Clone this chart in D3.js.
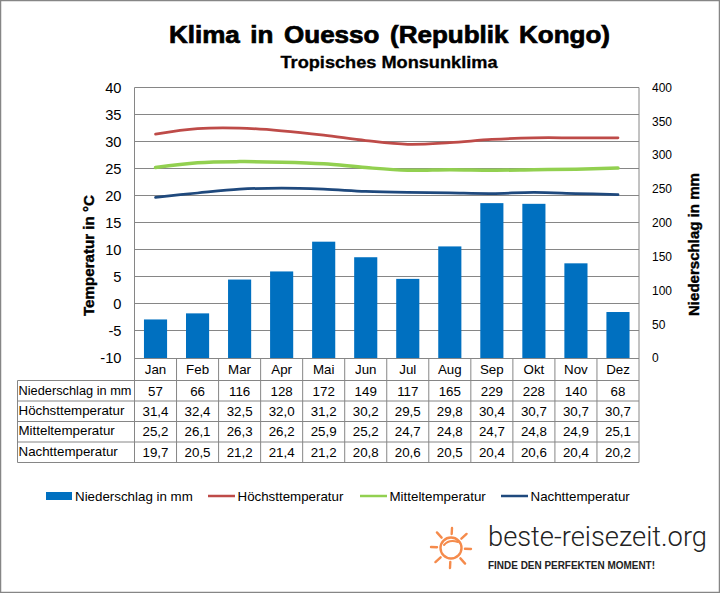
<!DOCTYPE html>
<html>
<head>
<meta charset="utf-8">
<title>Klima in Ouesso</title>
<script src="https://d3js.org/d3.v7.min.js"></script>
<style>
    html, body { margin: 0; padding: 0; background: #fff; }
    svg { display: block; }
    text { font-family: "Liberation Sans", Arial, sans-serif; fill: #000; }
</style>
</head>
<body>
<svg id="chart" width="720" height="593"></svg>
<script>
var months = ["Jan", "Feb", "Mar", "Apr", "Mai", "Jun", "Jul", "Aug", "Sep", "Okt", "Nov", "Dez"];
var niederschlag = [57, 66, 116, 128, 172, 149, 117, 165, 229, 228, 140, 68];
var hoechst = [31.4, 32.4, 32.5, 32.0, 31.2, 30.2, 29.5, 29.8, 30.4, 30.7, 30.7, 30.7];
var mittel = [25.2, 26.1, 26.3, 26.2, 25.9, 25.2, 24.7, 24.8, 24.7, 24.8, 24.9, 25.1];
var nacht = [19.7, 20.5, 21.2, 21.4, 21.2, 20.8, 20.6, 20.5, 20.4, 20.6, 20.4, 20.2];
var tempTicks = [-10, -5, 0, 5, 10, 15, 20, 25, 30, 35, 40];
var rainTicks = [0, 50, 100, 150, 200, 250, 300, 350, 400];

var gray = "#868686";
var left = 134.5, right = 639, top_ = 87.5, bottom = 358;
var tableLeft = 17.5;
var rowLines = [380.5, 401, 421.5, 442, 462.5];
var rowBase = [396, 416, 436, 457];

var svg = d3.select("#chart");
svg.append("rect").attr("x", 0.5).attr("y", 0.5).attr("width", 719).attr("height", 592)
    .attr("fill", "#fff").attr("stroke", gray).attr("stroke-width", 1.5);

var x = d3.scaleBand().domain(months).range([left, right]).paddingInner(0.45).paddingOuter(0.225);
var cell = d3.scaleBand().domain(months).range([left, right]);
var yT = d3.scaleLinear().domain([-10, 40]).range([bottom, top_]);
var yR = d3.scaleLinear().domain([0, 400]).range([bottom, top_]);

// titel
svg.append("text").attr("x", 389.5).attr("y", 42.5).attr("text-anchor", "middle")
    .attr("font-size", 23.5).attr("font-weight", "bold").attr("stroke", "#000").attr("stroke-width", 0.7)
    .attr("word-spacing", 3)
    .attr("textLength", 441).attr("lengthAdjust", "spacingAndGlyphs")
    .text("Klima in Ouesso (Republik Kongo)");
svg.append("text").attr("x", 389).attr("y", 68).attr("text-anchor", "middle")
    .attr("font-size", 16).attr("font-weight", "bold").attr("stroke", "#000").attr("stroke-width", 0.3)
    .attr("textLength", 217).attr("lengthAdjust", "spacingAndGlyphs")
    .text("Tropisches Monsunklima");

// gitter
svg.append("g").selectAll("line").data(tempTicks).join("line")
    .attr("x1", left).attr("x2", right)
    .attr("y1", function(d){ return Math.round(yT(d) - 0.5) + 0.5; })
    .attr("y2", function(d){ return Math.round(yT(d) - 0.5) + 0.5; })
    .attr("stroke", gray);
svg.append("line").attr("x1", left).attr("x2", left).attr("y1", top_).attr("y2", bottom).attr("stroke", gray);
svg.append("line").attr("x1", right).attr("x2", right).attr("y1", top_).attr("y2", bottom).attr("stroke", gray);

// balken
svg.append("g").selectAll("rect").data(niederschlag).join("rect")
    .attr("x", function(d, i){ return x(months[i]); })
    .attr("width", x.bandwidth())
    .attr("y", function(d){ return yR(d); })
    .attr("height", function(d){ return bottom - yR(d); })
    .attr("fill", "#0070C0");

// linien
var line = d3.line()
    .x(function(d, i){ return cell(months[i]) + cell.bandwidth() / 2; })
    .y(function(d){ return yT(d); })
    .curve(d3.curveCatmullRom.alpha(0.5));
var series = [
    {name: "Höchsttemperatur", values: hoechst, color: "#BE4B48", width: 2.75},
    {name: "Mitteltemperatur", values: mittel, color: "#92D050", width: 3.5},
    {name: "Nachttemperatur", values: nacht, color: "#1F497D", width: 2.75}
];
series.forEach(function(s){
    svg.append("path").attr("d", line(s.values)).attr("fill", "none")
        .attr("stroke", s.color).attr("stroke-width", s.width).attr("stroke-linecap", "round");
});

// achsen
var axL = d3.axisLeft(yT).tickValues(tempTicks).tickSize(0).tickPadding(13).tickFormat(function(d){ return String(d); });
var gL = svg.append("g").attr("transform", "translate(" + left + ",0)").call(axL);
gL.select(".domain").remove();
gL.selectAll("text").attr("font-size", 14.67).attr("font-family", null);
var axR = d3.axisRight(yR).tickValues(rainTicks).tickSize(0).tickPadding(13);
var gR = svg.append("g").attr("transform", "translate(" + right + ",0)").call(axR);
gR.select(".domain").remove();
gR.selectAll("text").attr("font-size", 12).attr("font-family", null);

svg.append("text").attr("transform", "translate(94,255.5) rotate(-90)").attr("text-anchor", "middle")
    .attr("font-size", 14.67).attr("font-weight", "bold").attr("stroke", "#000").attr("stroke-width", 0.4)
    .attr("textLength", 121).attr("lengthAdjust", "spacingAndGlyphs").text("Temperatur in °C");
svg.append("text").attr("transform", "translate(698.5,244.5) rotate(-90)").attr("text-anchor", "middle")
    .attr("font-size", 14.67).attr("font-weight", "bold").attr("stroke", "#000").attr("stroke-width", 0.4)
    .attr("textLength", 143).attr("lengthAdjust", "spacingAndGlyphs").text("Niederschlag in mm");

// tabelle
var tableRows = [
    {label: "Niederschlag in mm", values: niederschlag, fmt: function(d){ return String(d); }},
    {label: "Höchsttemperatur", values: hoechst},
    {label: "Mitteltemperatur", values: mittel},
    {label: "Nachttemperatur", values: nacht}
];
var comma = function(d){ return d.toFixed(1).replace(".", ","); };
var tbl = svg.append("g");
rowLines.forEach(function(y){
    tbl.append("line").attr("x1", tableLeft).attr("x2", right).attr("y1", y).attr("y2", y).attr("stroke", gray);
});
tbl.append("line").attr("x1", tableLeft).attr("x2", tableLeft).attr("y1", rowLines[0]).attr("y2", rowLines[4]).attr("stroke", gray);
months.forEach(function(m){
    tbl.append("line").attr("x1", cell(m)).attr("x2", cell(m)).attr("y1", bottom).attr("y2", rowLines[4]).attr("stroke", gray);
    tbl.append("text").attr("x", cell(m) + cell.bandwidth() / 2).attr("y", 374)
        .attr("text-anchor", "middle").attr("font-size", 13.33).text(m);
});
tbl.append("line").attr("x1", right).attr("x2", right).attr("y1", bottom).attr("y2", rowLines[4]).attr("stroke", gray);
tableRows.forEach(function(r, k){
    tbl.append("text").attr("x", 18.5).attr("y", rowBase[k] - 1).attr("font-size", 13.33)
        .attr("textLength", k == 0 ? 113 : null).attr("lengthAdjust", "spacingAndGlyphs").text(r.label);
    r.values.forEach(function(v, i){
        tbl.append("text").attr("x", cell(months[i]) + cell.bandwidth() / 2).attr("y", rowBase[k])
            .attr("text-anchor", "middle").attr("font-size", 13.33)
            .text(r.fmt ? r.fmt(v) : comma(v));
    });
});

// legende
var leg = svg.append("g");
leg.append("rect").attr("x", 46).attr("y", 492).attr("width", 26).attr("height", 8).attr("fill", "#0070C0");
leg.append("text").attr("x", 75).attr("y", 501).attr("font-size", 13.33).text("Niederschlag in mm");
var legendX = [208, 360, 501];
series.forEach(function(s, i){
    leg.append("line").attr("x1", legendX[i]).attr("x2", legendX[i] + 27).attr("y1", 496).attr("y2", 496)
        .attr("stroke", s.color).attr("stroke-width", 2.5);
    leg.append("text").attr("x", legendX[i] + 29.5).attr("y", 501).attr("font-size", 13.33).text(s.name);
});

// logo
var sun = svg.append("g").attr("transform", "translate(451,548)")
    .attr("fill", "none").attr("stroke", "#F58B4C").attr("stroke-width", 2.4).attr("stroke-linecap", "round");
sun.append("circle").attr("r", 10.5);
sun.append("path").attr("d", "M-7,-3 Q-2,-9 7,-6").attr("stroke-width", 2);
d3.range(8).forEach(function(i){
    var a = i * Math.PI / 4 - Math.PI / 2 + 0.05, r1 = 14, r2 = i % 2 ? 21 : 20;
    sun.append("line").attr("x1", r1 * Math.cos(a)).attr("y1", r1 * Math.sin(a))
        .attr("x2", r2 * Math.cos(a)).attr("y2", r2 * Math.sin(a));
});
svg.append("text").attr("x", 488).attr("y", 546).attr("font-size", 28)
    .style("font-family", "Roboto, sans-serif").attr("font-weight", 300).style("fill", "#222")
    .attr("textLength", 219).attr("lengthAdjust", "spacingAndGlyphs").text("beste-reisezeit.org");
svg.append("text").attr("x", 488).attr("y", 568.5).attr("font-size", 10)
    .attr("font-weight", 700).style("fill", "#222")
    .attr("textLength", 167).attr("lengthAdjust", "spacingAndGlyphs").text("FINDE DEN PERFEKTEN MOMENT!");
</script>
</body>
</html>
